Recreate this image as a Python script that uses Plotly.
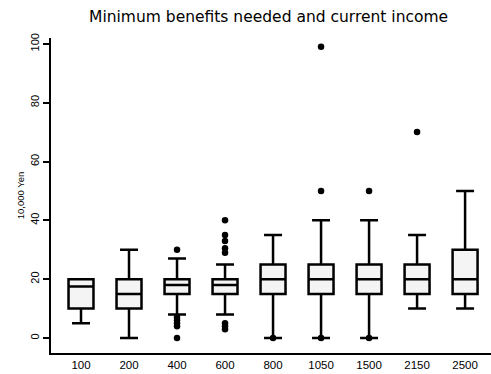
import plotly.graph_objects as go

categories = ["100", "200", "400", "600", "800", "1050", "1500", "2150", "2500"]
q1 = [10, 10, 15, 15, 15, 15, 15, 15, 15]
median = [17.5, 15, 18, 18, 20, 20, 20, 20, 20]
q3 = [20, 20, 20, 20, 25, 25, 25, 25, 30]
lower_whisker = [5, 0, 8, 8, 0, 0, 0, 10, 10]
upper_whisker = [20, 30, 27, 25, 35, 40, 40, 35, 50]

outlier_cats = ["400", "400", "400", "400", "400", "400",
                "600", "600", "600", "600", "600", "600", "600", "600",
                "800", "1050", "1050", "1050", "1500", "1500", "2150"]
outlier_vals = [30, 7, 6, 5, 4, 0,
                40, 35, 33, 30.5, 29, 5, 4, 3,
                0, 0, 50, 99, 0, 50, 70]

y_ticks = [0, 20, 40, 60, 80, 100]

fig = go.Figure()
fig.add_trace(go.Box(
    x=categories, q1=q1, median=median, q3=q3,
    lowerfence=lower_whisker, upperfence=upper_whisker,
    width=0.52, whiskerwidth=0.72,
    fillcolor="#f4f4f4",
    line=dict(color="black", width=2.5),
    boxpoints=False, showlegend=False, hoverinfo="skip",
))
fig.add_trace(go.Scatter(
    x=outlier_cats, y=outlier_vals, mode="markers",
    marker=dict(color="black", size=6.5),
    showlegend=False, hoverinfo="skip",
))

fig.update_layout(
    width=491, height=374,
    margin=dict(l=51, r=0, t=38, b=21),
    paper_bgcolor="white", plot_bgcolor="white",
    font=dict(family="Liberation Sans, Arial, sans-serif", color="black"),
    title=dict(text="Minimum benefits needed and current income",
               x=0.547, xanchor="center", y=0.955, yanchor="middle",
               font=dict(family="DejaVu Sans, sans-serif", size=15.5, color="black")),
    xaxis=dict(type="category", categoryorder="array", categoryarray=categories,
               range=[-0.625, 8.54], showgrid=False, zeroline=False,
               showline=True, linecolor="black", linewidth=2,
               ticks="", ticklabelstandoff=0,
               tickfont=dict(size=11.5, color="black"), automargin=False),
    yaxis=dict(range=[-5.1, 102], tickvals=y_ticks, showgrid=False, zeroline=False,
               showline=True, linecolor="black", linewidth=2,
               ticks="outside", ticklen=6, tickwidth=1.5, tickcolor="black",
               tickangle=-90, tickfont=dict(size=11, color="black"),
               title=dict(text="10,000 Yen", font=dict(size=9.5, color="black"), standoff=2),
               automargin=False),
)

fig.write_html("out.html")
